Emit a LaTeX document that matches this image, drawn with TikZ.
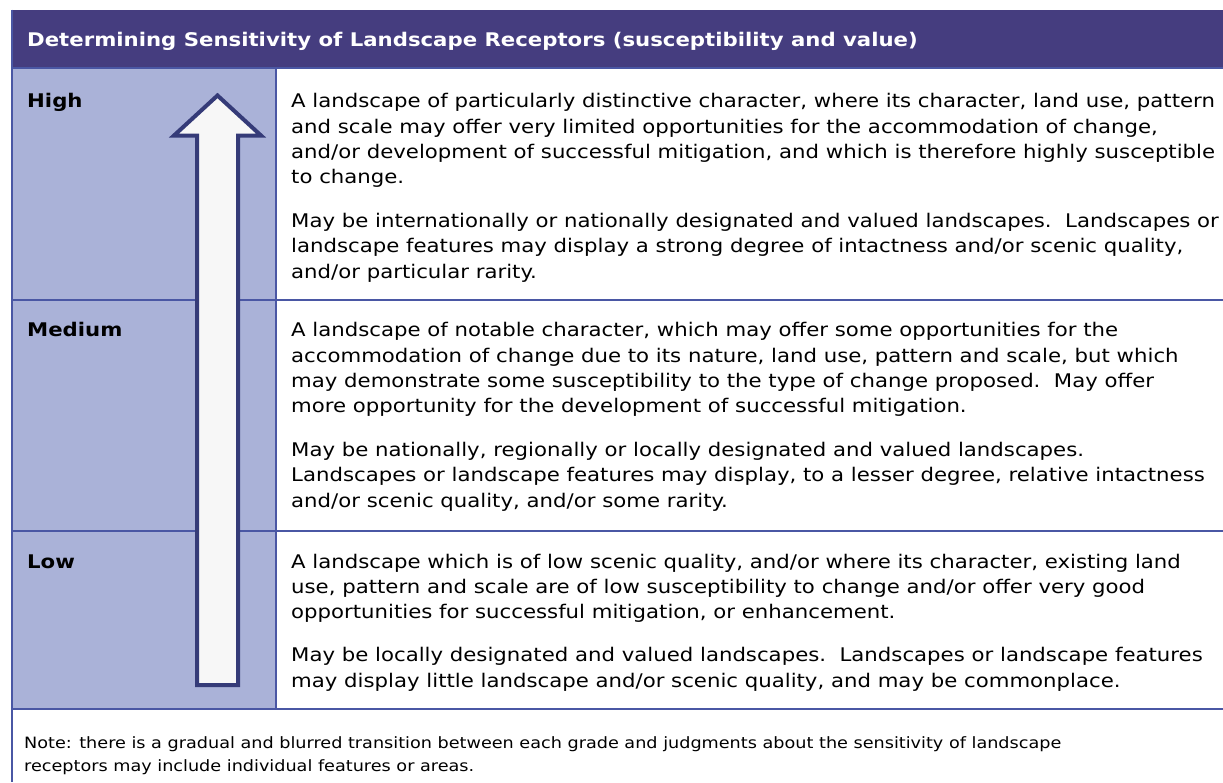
\documentclass[tikz,border=0pt]{standalone}
\usepackage{fontspec}
\setmainfont{DejaVu Sans}[FakeStretch=1.13]
\usepackage{xcolor}
\usetikzlibrary{positioning}

\definecolor{hdrpurple}{HTML}{453D7F}
\definecolor{colblue}{HTML}{AAB2D8}
\definecolor{rulecol}{HTML}{4A57A4}
\definecolor{arrowcol}{HTML}{353B78}
\definecolor{arrowfill}{HTML}{F7F7F7}

\begin{document}
\begin{tikzpicture}[
  x=1pt, y=-1pt,
  every node/.style={inner sep=0pt, anchor=base west},
  rule/.style={draw=rulecol, line width=2.2pt},
  grade/.style={font=\fontsize{18.8}{25.3}\selectfont\bfseries},
  desc/.style={font=\fontsize{18.8}{25.3}\selectfont, align=left},
  note/.style={font=\fontsize{15.6}{23}\selectfont, align=left}
]
\useasboundingbox (0,0) rectangle (1223,782);

% Header band
\fill[hdrpurple] (11,9.5) rectangle (1223,68);
\node[grade, text=white] (title) at (27,46.7)
  {Determining Sensitivity of Landscape Receptors (susceptibility and value)};

% Grade column and table rules
\fill[colblue] (12,68) rectangle (276,709);
\draw[rule] (11,68) -- (1223,68);
\draw[rule] (11,300) -- (1223,300);
\draw[rule] (11,531) -- (1223,531);
\draw[rule] (11,709) -- (1223,709);
\draw[rule] (276,68) -- (276,709);
\draw[rule] (12,9.5) -- (12,782);

% Rising sensitivity arrow
\draw[draw=arrowcol, fill=arrowfill, line width=4pt, line join=miter]
  (197,685) -- (197,135.5) -- (174,135.5) -- (217.5,95.5) -- (261,135.5)
  -- (238,135.5) -- (238,685) -- cycle;

% High (text nodes sit on the baseline of their last line)
\node[grade] (high) at (27,107.7) {High};
\node[desc] (hightxt) at (291,278.2)
  {A landscape of particularly distinctive character, where its character, land use, pattern\\
   and scale may offer very limited opportunities for the accommodation of change,\\
   and/or development of successful mitigation, and which is therefore highly susceptible\\
   to change.\\[18.7pt]
   May be internationally or nationally designated and valued landscapes.~~Landscapes or\\
   landscape features may display a strong degree of intactness and/or scenic quality,\\
   and/or particular rarity.};

% Medium
\node[grade] (medium) at (27,336.7) {Medium};
\node[desc] (mediumtxt) at (291,507.2)
  {A landscape of notable character, which may offer some opportunities for the\\
   accommodation of change due to its nature, land use, pattern and scale, but which\\
   may demonstrate some susceptibility to the type of change proposed.~~May offer\\
   more opportunity for the development of successful mitigation.\\[18.7pt]
   May be nationally, regionally or locally designated and valued landscapes.\\
   Landscapes or landscape features may display, to a lesser degree, relative intactness\\
   and/or scenic quality, and/or some rarity.};

% Low
\node[grade] (low) at (27,568.3) {Low};
\node[desc] (lowtxt) at (291,687)
  {A landscape which is of low scenic quality, and/or where its character, existing land\\
   use, pattern and scale are of low susceptibility to change and/or offer very good\\
   opportunities for successful mitigation, or enhancement.\\[17.5pt]
   May be locally designated and valued landscapes.~~Landscapes or landscape features\\
   may display little landscape and/or scenic quality, and may be commonplace.};

% Note
\node[note] (note) at (24,771.6)
  {Note: there is a gradual and blurred transition between each grade and judgments about the sensitivity of landscape\\
   receptors may include individual features or areas.};

\end{tikzpicture}
\end{document}
